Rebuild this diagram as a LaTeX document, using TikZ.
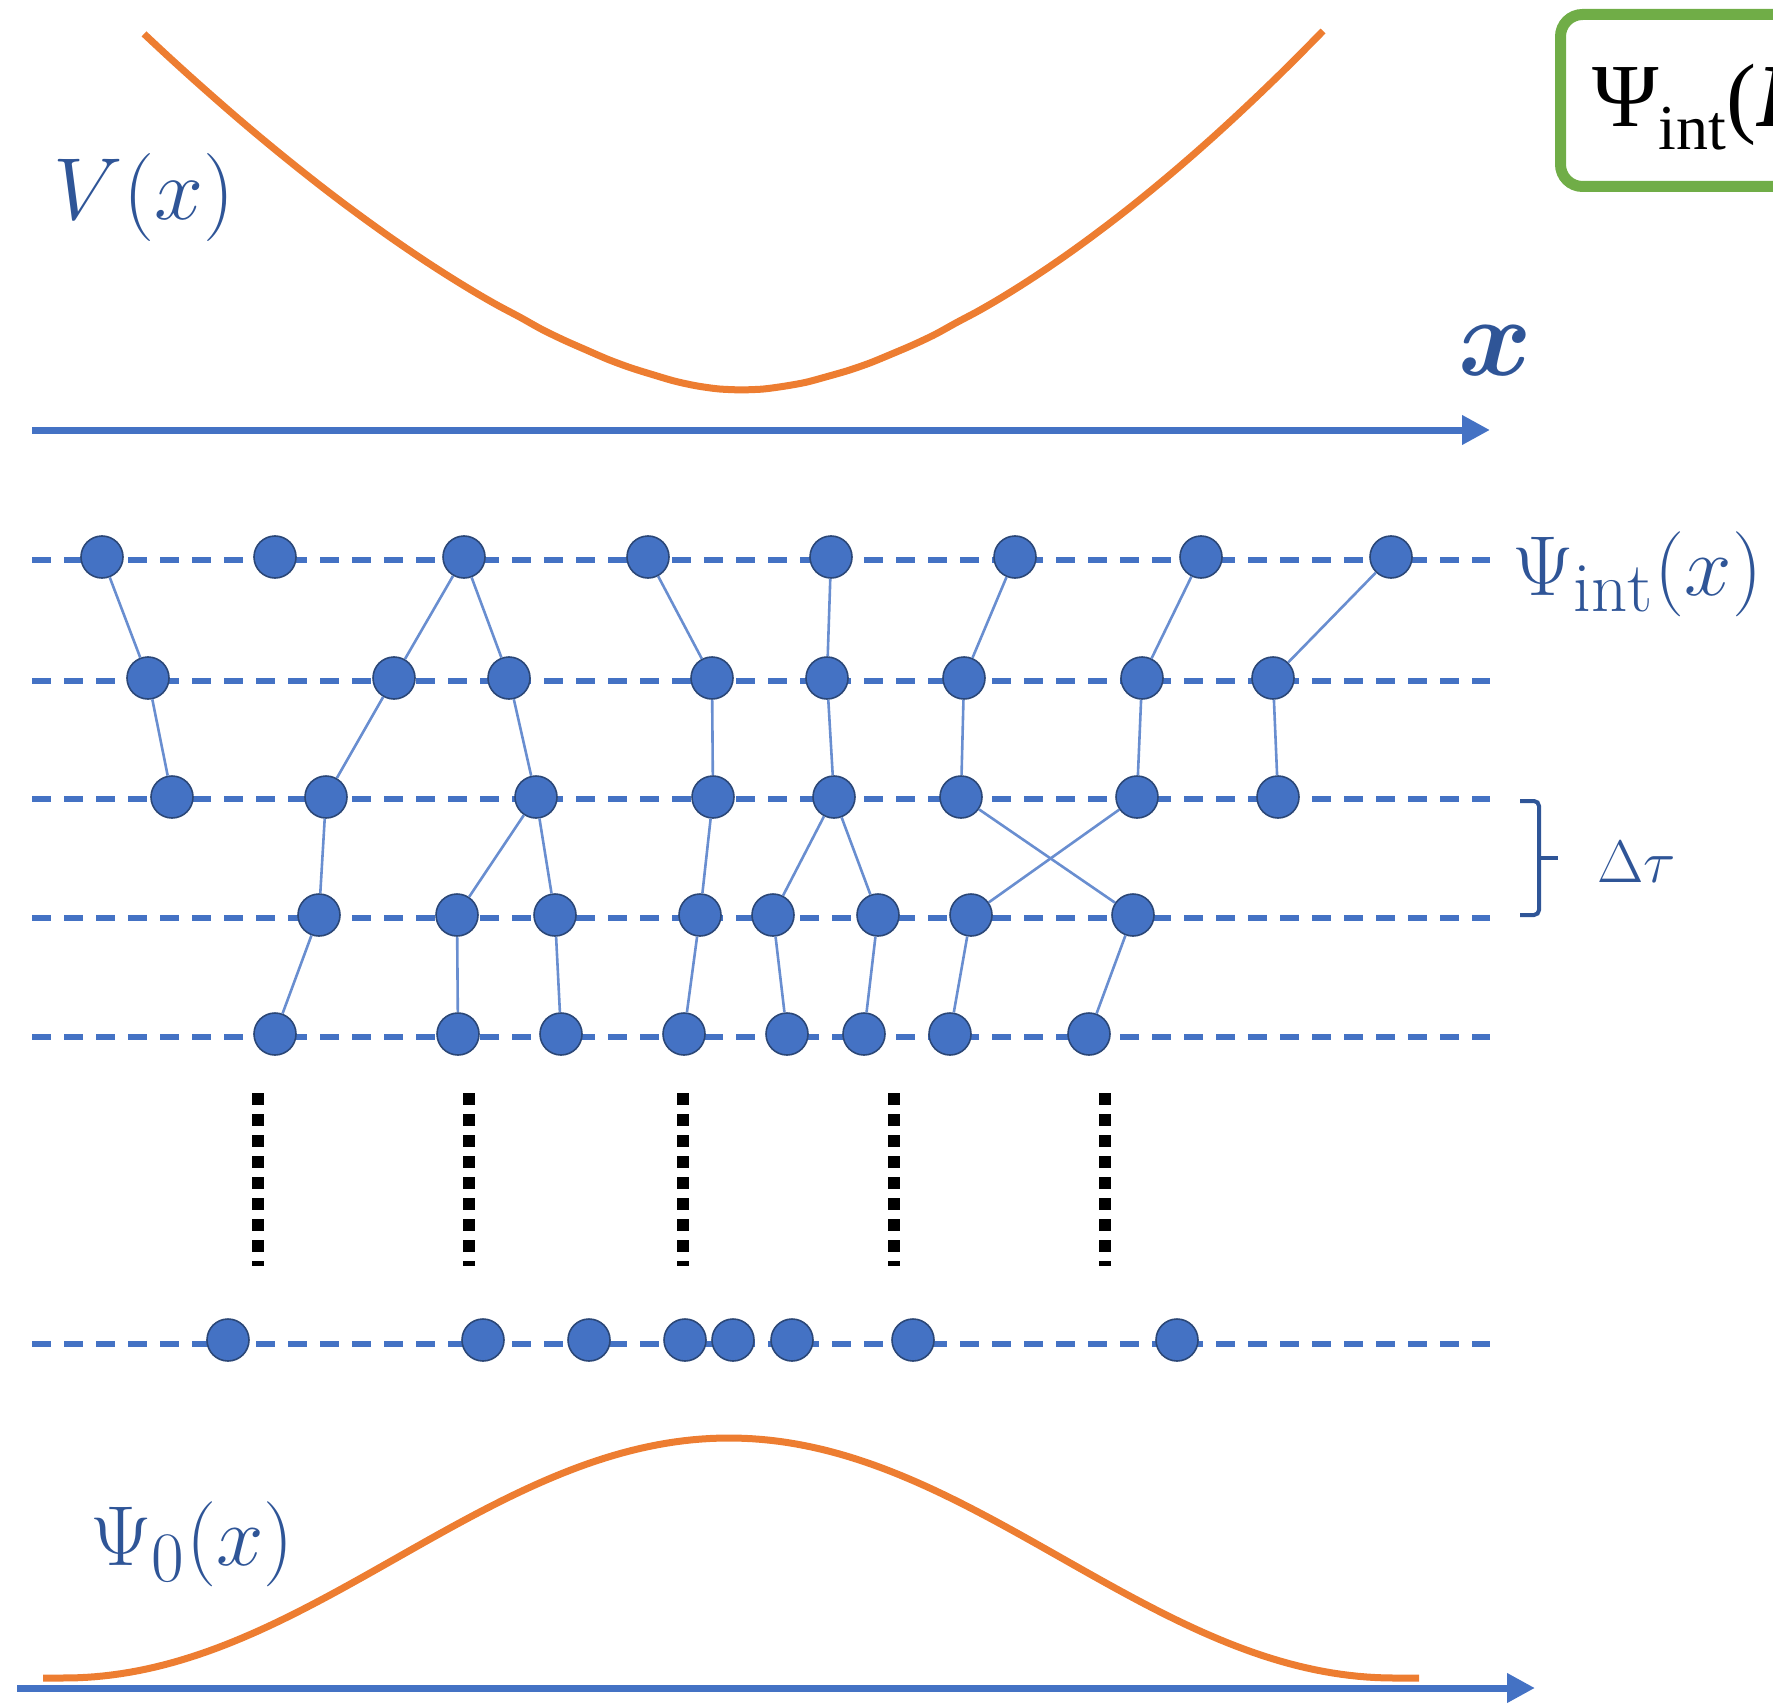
\documentclass[tikz,border=0pt]{standalone}
\usepackage{fontspec}
\newfontfamily\timesf{Liberation Serif}
\usetikzlibrary{arrows.meta}
\definecolor{oblue}{HTML}{4472C4}
\definecolor{tblue}{HTML}{2F5597}
\definecolor{oorange}{HTML}{ED7D31}
\definecolor{ogreen}{HTML}{70AD47}
\definecolor{nborder}{HTML}{2B4777}
\begin{document}
\begin{tikzpicture}[x=1pt,y=-1pt,
  walker/.style={circle, fill=oblue, draw=nborder, line width=1.6pt, minimum size=42pt, inner sep=0pt},
  link/.style={draw=oblue!80!white, line width=2.6pt},
  slice/.style={draw=oblue, line width=5.5pt, dash pattern=on 19pt off 13pt},
  dots/.style={draw=black, line width=12pt, dash pattern=on 12pt off 9pt},
  axis/.style={draw=oblue, line width=7pt, -{Triangle[length=28pt,width=28pt]}},
  curve/.style={draw=oorange, line width=7pt, line join=round},
  lab/.style={text=tblue, inner sep=0pt, anchor=base west, font=\Huge}
]
\useasboundingbox (0,0) rectangle (1773,1704);

% green box (cut off at the right edge, as in the reference)
\begin{scope}
\clip (0,0) rectangle (1773,1704);
\draw[ogreen, line width=11pt, rounded corners=22pt] (1560.5,14.5) rectangle (1850,186.5);
\node[inner sep=0pt, anchor=base west] (boxtext) at (1592,127)
  {\timesf\fontsize{90}{90}\selectfont Ψ\raisebox{-23pt}{\fontsize{64}{64}\selectfont int}(\textbf{\textit{R}})};
\end{scope}

% potential
\draw[curve] plot[smooth, domain=144:741, samples=28]
  (\x, {390 - 363.6*(pow(((741-\x)/597)^2 + 0.0101, 0.775) - 0.0284)})
  -- plot[smooth, domain=741:1323, samples=28]
  (\x, {390 - 364.4*(pow(((\x-741)/582)^2 + 0.01063, 0.825) - 0.0235)});
\draw[axis] (32,430) -- (1490,430);
\node[lab, scale=3.54] (Vlab) at (53,220) {$V(x)$};
\node[lab, scale=4.5] (xlab) at (1458,375) {{\boldmath $x$}};

% time slices
\foreach \yy in {560,681,799,918,1037,1344}
  \draw[slice] (32,\yy) -- (1490,\yy);

\node[lab, scale=3.42] (Psiint) at (1512,595) {$\Psi_{\mathrm{int}}(x)$};

% brace
\draw[tblue, line width=4pt, rounded corners=5pt] (1520,801) -- (1539,801) -- (1539,915) -- (1520,915);
\draw[tblue, line width=4pt] (1539,858) -- (1558,858);
\node[lab, scale=2.41] (dtau) at (1597,882) {$\Delta\tau$};

% walkers
\foreach \n/\xp in {a1/102,a2/275,a3/464,a4/648,a5/831,a6/1015,a7/1201,a8/1391}
  \node[walker] (\n) at (\xp,557) {};
\foreach \n/\xp in {b1/148,b2/394,b3/509,b4/712,b5/827,b6/964,b7/1142,b8/1273}
  \node[walker] (\n) at (\xp,678) {};
\foreach \n/\xp in {c1/172,c2/326,c3/536,c4/713,c5/834,c6/961,c7/1137,c8/1278}
  \node[walker] (\n) at (\xp,797) {};
\foreach \n/\xp in {d1/319,d2/457,d3/555,d4/700,d5/773,d6/878,d7/971,d8/1133}
  \node[walker] (\n) at (\xp,915) {};
\foreach \n/\xp in {e1/275,e2/458,e3/561,e4/684,e5/787,e6/864,e7/950,e8/1089}
  \node[walker] (\n) at (\xp,1034) {};
\foreach \n/\xp in {f1/228,f2/483,f3/589,f4/685,f5/733,f6/792,f7/913,f8/1177}
  \node[walker] (\n) at (\xp,1340) {};

% paths
\foreach \p/\q in {a1/b1,b1/c1,
  a3/b2,a3/b3,b2/c2,c2/d1,d1/e1,
  b3/c3,c3/d2,c3/d3,d2/e2,d3/e3,
  a4/b4,b4/c4,c4/d4,d4/e4,
  a5/b5,b5/c5,c5/d5,c5/d6,d5/e5,d6/e6,
  a6/b6,b6/c6,c6/d8,d8/e8,
  a7/b7,b7/c7,c7/d7,d7/e7,
  a8/b8,b8/c8}
  \draw[link] (\p) -- (\q);

% vertical dots
\foreach \xx in {258,469,683,894,1105}
  \draw[dots] (\xx,1093) -- (\xx,1266);

% ground state
\draw[curve] plot[domain=43:1419, samples=160]
  (\x, {1678 - 120*(1 + cos(180*min(abs(\x-729)/665, 1)))});
\draw[axis] (17,1688) -- (1535,1688);
\node[lab, scale=3.42] (Psi0) at (90,1565) {$\Psi_0(x)$};
\end{tikzpicture}
\end{document}
